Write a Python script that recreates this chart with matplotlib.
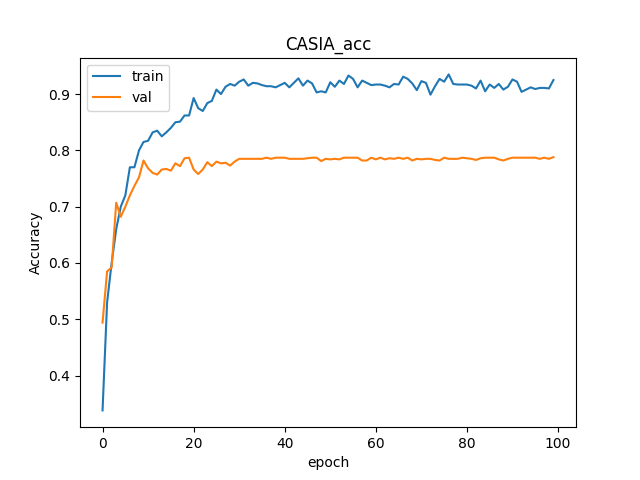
import matplotlib
matplotlib.use('Agg')
import matplotlib.pyplot as plt

train_acc = [0.338, 0.53, 0.60, 0.66, 0.70, 0.72, 0.77, 0.77, 0.80, 0.815,
             0.817, 0.832, 0.835, 0.825, 0.832, 0.84, 0.85, 0.851, 0.862, 0.862,
             0.893, 0.875, 0.870, 0.884, 0.888, 0.908, 0.900, 0.913, 0.918, 0.915,
             0.922, 0.926, 0.915, 0.920, 0.919, 0.916, 0.914, 0.914, 0.912, 0.916,
             0.920, 0.912, 0.920, 0.928, 0.915, 0.924, 0.919, 0.903, 0.905, 0.903,
             0.921, 0.913, 0.924, 0.918, 0.933, 0.927, 0.912, 0.924, 0.920, 0.916,
             0.917, 0.917, 0.915, 0.912, 0.918, 0.917, 0.931, 0.927, 0.919, 0.907,
             0.923, 0.920, 0.899, 0.914, 0.927, 0.922, 0.935, 0.918, 0.917, 0.917,
             0.917, 0.915, 0.910, 0.924, 0.905, 0.917, 0.911, 0.918, 0.908, 0.913,
             0.926, 0.922, 0.904, 0.908, 0.912, 0.909, 0.911, 0.911, 0.910, 0.925]
val_acc = [0.494, 0.585, 0.592, 0.707, 0.682, 0.700, 0.720, 0.737, 0.752, 0.782,
           0.768, 0.760, 0.757, 0.766, 0.767, 0.764, 0.777, 0.772, 0.786, 0.787,
           0.766, 0.758, 0.766, 0.779, 0.772, 0.780, 0.777, 0.778, 0.773, 0.780,
           0.785, 0.785, 0.785, 0.785, 0.785, 0.785, 0.787, 0.785, 0.787, 0.787,
           0.787, 0.785, 0.785, 0.785, 0.785, 0.786, 0.787, 0.787, 0.781, 0.785,
           0.784, 0.785, 0.784, 0.787, 0.787, 0.787, 0.787, 0.782, 0.782, 0.787,
           0.784, 0.787, 0.784, 0.786, 0.785, 0.787, 0.785, 0.787, 0.782, 0.785,
           0.784, 0.785, 0.785, 0.783, 0.782, 0.787, 0.785, 0.785, 0.785, 0.787,
           0.786, 0.785, 0.783, 0.786, 0.787, 0.787, 0.787, 0.784, 0.782, 0.785,
           0.787, 0.787, 0.787, 0.787, 0.787, 0.787, 0.785, 0.787, 0.785, 0.788]

plt.figure(figsize=(6.4, 4.8), dpi=100)
plt.plot(train_acc, label='train')
plt.plot(val_acc, label='val')
plt.title('CASIA_acc')
plt.xlabel('epoch')
plt.ylabel('Accuracy')
plt.legend(loc='upper left')
plt.savefig('out.png')
